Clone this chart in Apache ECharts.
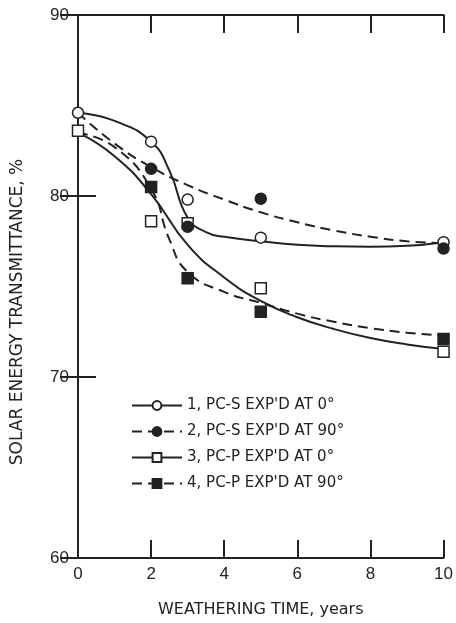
<!DOCTYPE html>
<html>
<head>
<meta charset="utf-8">
<script src="https://cdn.jsdelivr.net/npm/echarts@6/dist/echarts.min.js"></script>
<style>
  html, body { margin: 0; padding: 0; background: #fff; }
  #chart { width: 456px; height: 623px; }
</style>
</head>
<body>
<div id="chart"></div>
<script>
// legend names
const names = [
  "1, PC-S EXP'D AT 0°",
  "2, PC-S EXP'D AT 90°",
  "3, PC-P EXP'D AT 0°",
  "4, PC-P EXP'D AT 90°"
]

// measured points [years, %]
const pts1 = [[0, 84.6], [2, 83.0], [3, 79.8], [5, 77.7], [10, 77.45]]
const pts2 = [[2, 81.5], [3, 78.3], [5, 79.85], [10, 77.1]]
const pts3 = [[0, 83.6], [2, 78.6], [3, 78.5], [5, 74.9], [10, 71.4]]
const pts4 = [[2, 80.5], [3, 75.45], [5, 73.6], [10, 72.1]]

// fitted curves
const fit1 = [[0, 84.6], [1, 84.15], [2, 83.0], [2.5, 81.4], [3, 78.8], [3.5, 78.0], [4, 77.75], [5, 77.5],
  [6, 77.3], [7, 77.22], [8, 77.2], [9, 77.25], [10, 77.45]]
const fit2 = [[0, 84.6], [1, 82.9], [2, 81.6], [3, 80.6], [4, 79.8], [5, 79.1], [6, 78.55], [7, 78.1],
  [8, 77.75], [9, 77.5], [10, 77.4]]
const fit3 = [[0, 83.5], [1, 82.2], [2, 80.1], [3, 77.3], [4, 75.5], [5, 74.2], [6, 73.3], [7, 72.65],
  [8, 72.15], [9, 71.8], [10, 71.55]]
const fit4 = [[0, 83.5], [1, 82.7], [2, 80.4], [2.5, 77.6], [3, 75.8], [4, 74.7], [5, 74.1], [6, 73.5],
  [7, 73.05], [8, 72.7], [9, 72.45], [10, 72.3]]

const ink = '#222'
const numFont = '"Liberation Sans Narrow", "Liberation Sans", sans-serif'

let chart = echarts.init(document.getElementById('chart'))

// curve series (legend icon comes from these)
function curve (name, data, symbol, filled, dashed) {
  return {
    name: name,
    type: 'line',
    xAxisIndex: 0,
    yAxisIndex: 0,
    data: data,
    smooth: 0.5,
    showSymbol: false,
    symbol: symbol,
    symbolSize: 9,
    itemStyle: { color: filled ? ink : '#fff', borderColor: ink, borderWidth: 1.5 },
    lineStyle: { color: ink, width: 2, type: dashed ? [10, 6] : 'solid' },
    silent: true,
    z: 2
  }
}

function marks (name, data, symbol, filled) {
  return {
    name: name,
    type: 'scatter',
    xAxisIndex: 0,
    yAxisIndex: 0,
    data: data,
    symbol: symbol,
    symbolSize: 11,
    itemStyle: { color: filled ? ink : '#fff', borderColor: ink, borderWidth: 1.5, opacity: 1 },
    z: 3
  }
}

chart.setOption({
  backgroundColor: '#fff',
  animation: false,
  grid: { left: 78, right: 12, top: 15, bottom: 63 },
  legend: {
    data: names,
    orient: 'vertical',
    left: 126,
    top: 393,
    itemWidth: 50,
    itemHeight: 11,
    itemGap: 11,
    selectedMode: false,
    textStyle: { color: ink, fontSize: 15, fontFamily: 'DejaVu Sans' }
  },
  xAxis: [
    {
      type: 'value', min: 0, max: 10, interval: 2,
      name: 'WEATHERING TIME, years',
      nameLocation: 'middle',
      nameGap: 44,
      nameTextStyle: { color: ink, fontSize: 16, fontFamily: 'DejaVu Sans' },
      axisLine: { show: true, lineStyle: { color: ink, width: 2 } },
      axisTick: { show: true, inside: true, length: 18, lineStyle: { color: ink, width: 2 } },
      axisLabel: { color: ink, fontSize: 17, fontFamily: numFont, margin: 8 },
      splitLine: { show: false }
    },
    {
      type: 'value', min: 0, max: 10, interval: 2, position: 'top',
      axisLine: { show: true, lineStyle: { color: ink, width: 2 } },
      axisTick: { show: true, inside: true, length: 18, lineStyle: { color: ink, width: 2 } },
      axisLabel: { show: false },
      splitLine: { show: false }
    }
  ],
  yAxis: [
    {
      type: 'value', min: 60, max: 90, interval: 10,
      axisLine: { show: true, lineStyle: { color: ink, width: 2 } },
      axisTick: { show: true, inside: true, length: 18, lineStyle: { color: ink, width: 2 } },
      axisLabel: { color: ink, fontSize: 17, fontFamily: numFont, margin: 9 },
      splitLine: { show: false }
    },
    {
      type: 'value', min: 60, max: 90, interval: 10, position: 'right',
      axisLine: { show: true, lineStyle: { color: ink, width: 2 } },
      axisTick: { show: true, inside: true, length: 18, lineStyle: { color: ink, width: 2 } },
      axisLabel: { show: false },
      splitLine: { show: false }
    }
  ],
  graphic: [
    {
      type: 'text',
      x: 18,
      y: 312,
      rotation: Math.PI / 2,
      style: {
        text: 'SOLAR ENERGY TRANSMITTANCE, %',
        fill: ink,
        fontSize: 17,
        fontFamily: 'DejaVu Sans',
        align: 'center',
        verticalAlign: 'middle'
      }
    }
  ],
  series: [
    curve(names[0], fit1, 'circle', false, false),
    curve(names[1], fit2, 'circle', true, true),
    curve(names[2], fit3, 'rect', false, false),
    curve(names[3], fit4, 'rect', true, true),
    marks(names[0], pts1, 'circle', false),
    marks(names[2], pts3, 'rect', false),
    marks(names[1], pts2, 'circle', true),
    marks(names[3], pts4, 'rect', true)
  ]
})
</script>
</body>
</html>
